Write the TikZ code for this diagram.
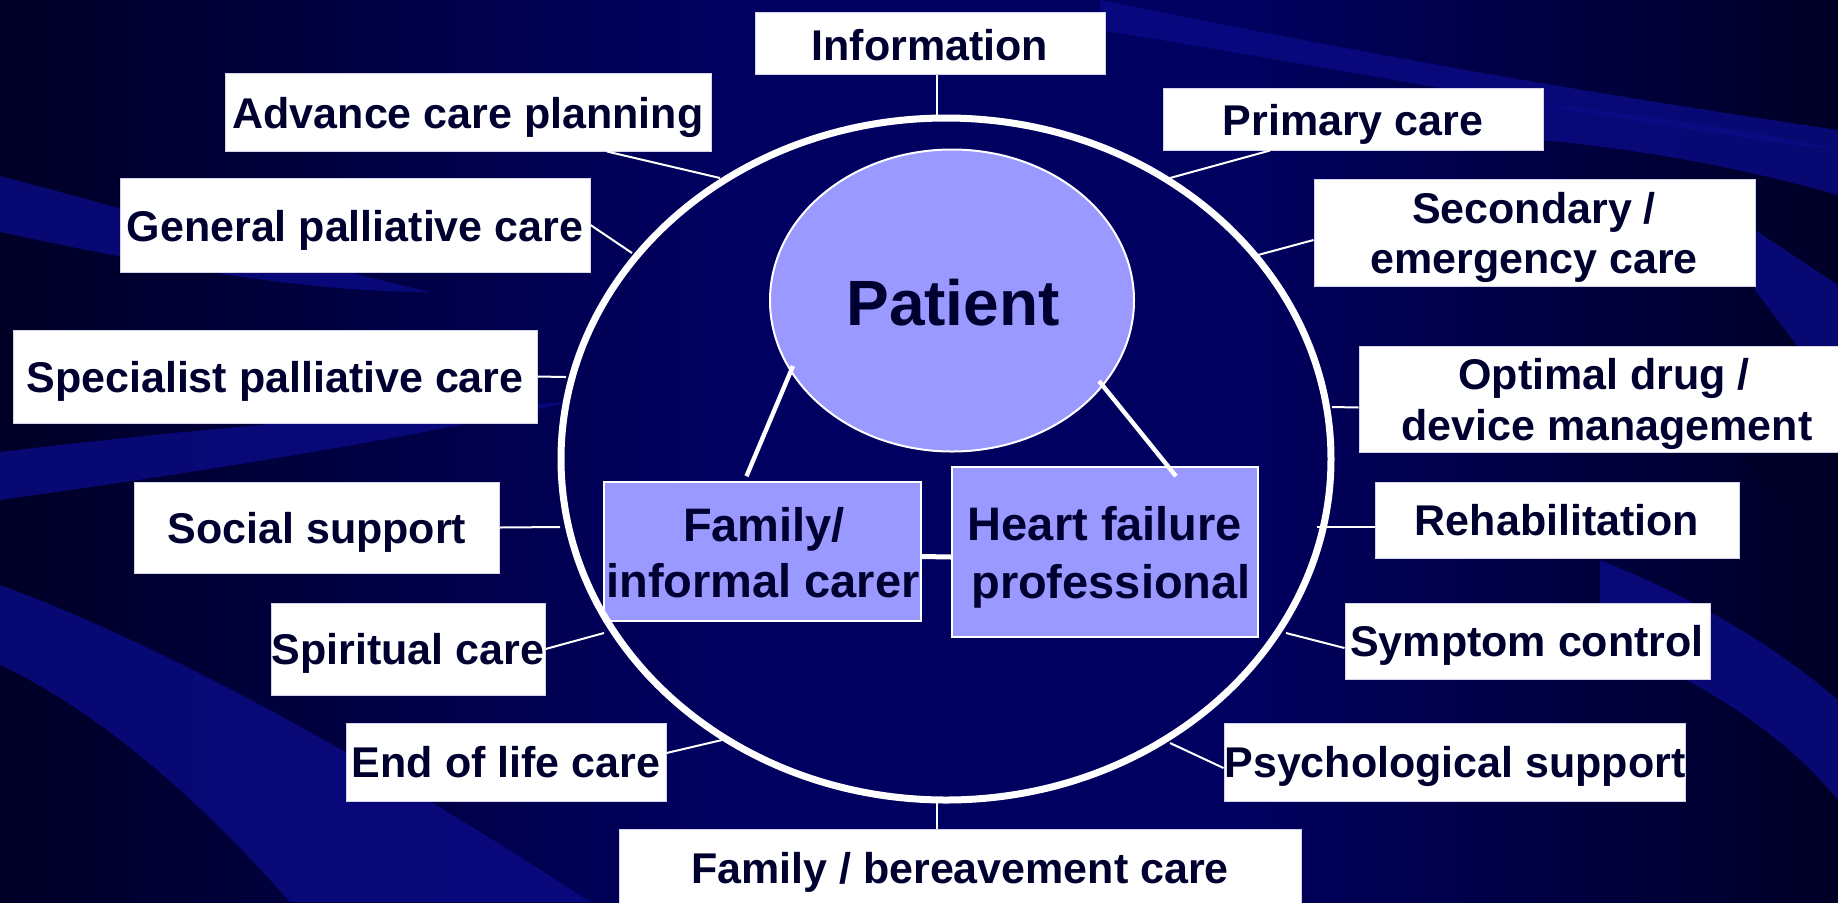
\documentclass[tikz,border=0pt]{standalone}
\usepackage{fontspec}
\setmainfont{Liberation Sans}
\usetikzlibrary{shapes.geometric,calc,fit}

\definecolor{navy}{HTML}{000060}
\definecolor{navydeep}{HTML}{000026}
\definecolor{navyband}{HTML}{0B0B86}
\definecolor{lilac}{HTML}{9999FF}
\definecolor{ink}{HTML}{000030}
\definecolor{boxedge}{HTML}{D4D4E6}

\begin{document}
\begin{tikzpicture}[x=0.5pt,y=-0.5pt,
  band/.style={fill=navyband, opacity=0.8},
  shadeband/.style={fill=navydeep, opacity=0.6},
  lbox/.style={rectangle, draw=boxedge, line width=0.5pt, fill=white, inner sep=0pt},
  ibox/.style={rectangle, draw=white, line width=0.8pt, fill=lilac, inner sep=0pt},
  ltxt/.style={font=\fontsize{21.5}{25}\selectfont\bfseries, text=ink, anchor=base, inner sep=0pt},
  itxt/.style={font=\fontsize{23.5}{28}\selectfont\bfseries, text=ink, anchor=base, inner sep=0pt},
  conn/.style={draw=white, line width=1pt},
  tie/.style={draw=white, line width=2.2pt}]

\useasboundingbox (0,0) rectangle (1838,902);

% ---------- background: navy field with soft sweeping bands ----------
\begin{scope}
  \clip (0,0) rectangle (1838,902);
  \fill[navy] (0,0) rectangle (1838,902);
  \shade[left color=navydeep, right color=navy] (0,0) rectangle (720,902);
  \shade[left color=navy, right color=navydeep] (1240,0) rectangle (1838,902);
  % upper left band
  \fill[band] (0,176) .. controls (150,215) and (300,262) .. (430,292)
              .. controls (300,292) and (150,264) .. (0,232) -- cycle;
  % band under the specialist box
  \fill[band] (0,452) .. controls (200,428) and (400,412) .. (570,402)
              .. controls (400,440) and (200,472) .. (0,500) -- cycle;
  % large lower left sweep
  \fill[band] (0,585) .. controls (180,650) and (420,790) .. (590,902)
              -- (290,902) .. controls (200,800) and (100,712) .. (0,665) -- cycle;
  % top right bands
  \fill[band] (1100,0) .. controls (1300,40) and (1500,80) .. (1838,130)
              -- (1838,150) .. controls (1600,120) and (1350,70) .. (1100,30) -- cycle;
  \fill[band] (1540,104) .. controls (1650,115) and (1750,130) .. (1838,150)
              -- (1838,195) .. controls (1750,170) and (1650,150) .. (1540,140) -- cycle;
  \fill[band] (1755,230) -- (1838,285) -- (1838,400) -- (1755,290) -- cycle;
  % lower right bands
  \fill[band] (1600,560) .. controls (1700,600) and (1780,650) .. (1838,700)
              -- (1838,800) .. controls (1780,730) and (1700,680) .. (1600,640) -- cycle;
  \fill[shadeband] (1740,455) -- (1838,455) -- (1838,560) -- cycle;
\end{scope}

% ---------- centre ----------
\node[ellipse, draw=white, line width=1pt, fill=lilac, minimum width=182pt,
      minimum height=151pt, inner sep=0pt] (patient) at (952,300.5) {};
\node[font=\fontsize{32}{36}\selectfont\bfseries, text=ink, anchor=base,
      inner sep=0pt] (patient-t) at (953,325) {Patient};

% ---------- outer boxes ----------
\node[lbox, fit={(755,12) (1105,74)}] (info) {};
\node[lbox, fit={(225,73) (711,151)}] (adv) {};
\node[lbox, fit={(120,178) (590,272)}] (gen) {};
\node[lbox, fit={(13,330) (537,423)}] (spec) {};
\node[lbox, fit={(134,482) (499,573)}] (soc) {};
\node[lbox, fit={(271,603) (545,695)}] (spi) {};
\node[lbox, fit={(346,723) (666,801)}] (eol) {};
\node[lbox, fit={(619,829) (1301,930)}] (ber) {};
\node[lbox, fit={(1163,88) (1543,150)}] (pri) {};
\node[lbox, fit={(1314,179) (1755,286)}] (sec) {};
\node[lbox, fit={(1359,346) (1855,452)}] (opt) {};
\node[lbox, fit={(1375,482) (1739,558)}] (reh) {};
\node[lbox, fit={(1345,603) (1710,679)}] (sym) {};
\node[lbox, fit={(1224,723) (1685,801)}] (psy) {};

% ---------- inner boxes ----------
\node[ibox, fit={(604,482) (921,621)}] (fam) {};
\node[ibox, fit={(952,467) (1258,637)}] (hf) {};

% ---------- points where the spokes meet the ring ----------
\coordinate (r-info) at (937,118);
\coordinate (r-adv) at (720,178);
\coordinate (r-gen) at (632,253);
\coordinate (r-spec) at (566,377);
\coordinate (r-soc) at (560,527);
\coordinate (r-spi) at (604,633);
\coordinate (r-eol) at (722,740);
\coordinate (r-ber) at (937,800);
\coordinate (r-pri) at (1170,178);
\coordinate (r-sec) at (1258,255);
\coordinate (r-opt) at (1332,407);
\coordinate (r-reh) at (1317,527);
\coordinate (r-sym) at (1286,633);
\coordinate (r-psy) at (1170,743);

% ---------- spokes ----------
\draw[conn] ($(info.south)+(7,0)$) -- (r-info);
\draw[conn] ($(adv.south)+(139,0)$) -- (r-adv);
\draw[conn] (gen.east) -- (r-gen);
\draw[conn] (spec.east) -- (r-spec);
\draw[conn] (soc.east) -- (r-soc);
\draw[conn] (spi.east) -- (r-spi);
\draw[conn] ($(eol.east)+(0,-9)$) -- (r-eol);
\draw[conn] ($(ber.north)+(-23,0)$) -- (r-ber);
\draw[conn] ($(pri.south)+(-83,0)$) -- (r-pri);
\draw[conn] ($(sec.west)+(0,7.5)$) -- (r-sec);
\draw[conn] ($(opt.west)+(0,8.5)$) -- (r-opt);
\draw[conn] ($(reh.west)+(0,7)$) -- (r-reh);
\draw[conn] ($(sym.west)+(0,7)$) -- (r-sym);
\draw[conn] ($(psy.west)+(0,6)$) -- (r-psy);

% the ring, drawn over the spoke ends
\node[ellipse, draw=white, line width=3.5pt, minimum width=385pt,
      minimum height=341pt, inner sep=0pt] (ring) at (946,459) {};

% ---------- links between patient, carer and professional ----------
\coordinate (p-fam) at (793,366);
\coordinate (p-hf) at (1099,381);
\draw[tie] (p-fam) -- ($(fam.north)+(-16,-5)$);
\draw[tie] (p-hf) -- ($(hf.north)+(71,10)$);
\draw[tie, line width=2.5pt] ($(fam.east)+(0,5)$) -- ($(hf.west)+(0,5)$);

% ---------- labels ----------
\node[ltxt] (info-t) at (930,60) {Information};
\node[ltxt] (adv-t) at (468,128) {Advance care planning};
\node[ltxt] (gen-t) at (355,241) {General palliative care};
\node[ltxt] (spec-t) at (275,392) {Specialist palliative care};
\node[ltxt] (soc-t) at (317,543) {Social support};
\node[ltxt] (spi-t) at (408,664) {Spiritual care};
\node[ltxt] (eol-t) at (506,777) {End of life care};
\node[ltxt] (ber-t) at (960,883) {Family / bereavement care};
\node[ltxt] (pri-t) at (1353,135) {Primary care};
\node[ltxt] (sec-t1) at (1534,223) {Secondary /};
\node[ltxt] (sec-t2) at (1534,273) {emergency care};
\node[ltxt] (opt-t1) at (1604,389) {Optimal drug /};
\node[ltxt] (opt-t2) at (1607,440) {device management};
\node[ltxt] (reh-t) at (1557,535) {Rehabilitation};
\node[ltxt] (sym-t) at (1527,656) {Symptom control};
\node[ltxt] (psy-t) at (1455,777) {Psychological support};
\node[itxt] (fam-t1) at (764,541) {Family/};
\node[itxt] (fam-t2) at (763,597) {informal carer};
\node[itxt] (hf-t1) at (1105,540) {Heart failure};
\node[itxt] (hf-t2) at (1111,598) {professional};
\end{tikzpicture}
\end{document}
